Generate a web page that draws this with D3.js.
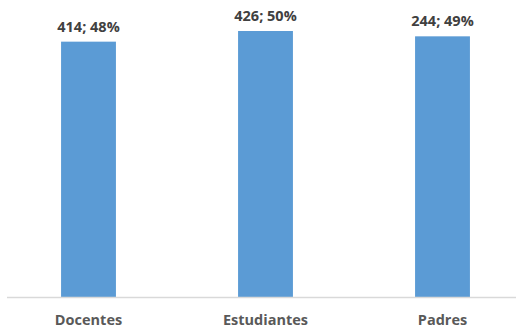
<!DOCTYPE html>
<html>
<head>
<meta charset="utf-8">
<script src="https://cdn.jsdelivr.net/npm/d3@7"></script>
<style>
  body { margin: 0; background: #fff; }
  svg text { font-family: "Open Sans", "Liberation Sans", sans-serif; font-weight: bold; }
</style>
</head>
<body>
<svg id="chart"></svg>
<script>
var categories = ['Docentes', 'Estudiantes', 'Padres'];
var counts = [414, 426, 244];
var percents = [48, 50, 49];

var width = 516;
var height = 329;
var baseline = 297.5;

var data = categories.map(function(c, i) {
  return { name: c, count: counts[i], pct: percents[i] };
});

var svg = d3.select('#chart').attr('width', width).attr('height', height);

var x = d3.scaleBand()
  .domain(categories)
  .range([0, 531])
  .paddingInner(0.69)
  .paddingOuter(0.345);

var y = d3.scaleLinear()
  .domain([0, 50])
  .range([baseline, 31]);

svg.selectAll('.bar').data(data).enter()
  .append('rect')
  .classed('bar', true)
  .attr('x', function(d) { return x(d.name); })
  .attr('y', function(d) { return y(d.pct); })
  .attr('width', x.bandwidth())
  .attr('height', function(d) { return baseline - y(d.pct); })
  .attr('fill', '#5B9BD5');

svg.append('line')
  .attr('x1', 7)
  .attr('x2', width)
  .attr('y1', baseline)
  .attr('y2', baseline)
  .attr('stroke', '#D9D9D9')
  .attr('stroke-width', 1.5);

svg.selectAll('.value-label').data(data).enter()
  .append('text')
  .classed('value-label', true)
  .attr('x', function(d) { return x(d.name) + x.bandwidth() / 2; })
  .attr('y', function(d) { return y(d.pct) - 10; })
  .style('text-anchor', 'middle')
  .style('font-size', '14.5px')
  .style('fill', '#404040')
  .text(function(d) { return d.count + '; ' + d.pct + '%'; });

svg.selectAll('.cat-label').data(data).enter()
  .append('text')
  .classed('cat-label', true)
  .attr('x', function(d) { return x(d.name) + x.bandwidth() / 2; })
  .attr('y', 325)
  .style('text-anchor', 'middle')
  .style('font-size', '14.5px')
  .style('fill', '#595959')
  .text(function(d) { return d.name; });
</script>
</body>
</html>
